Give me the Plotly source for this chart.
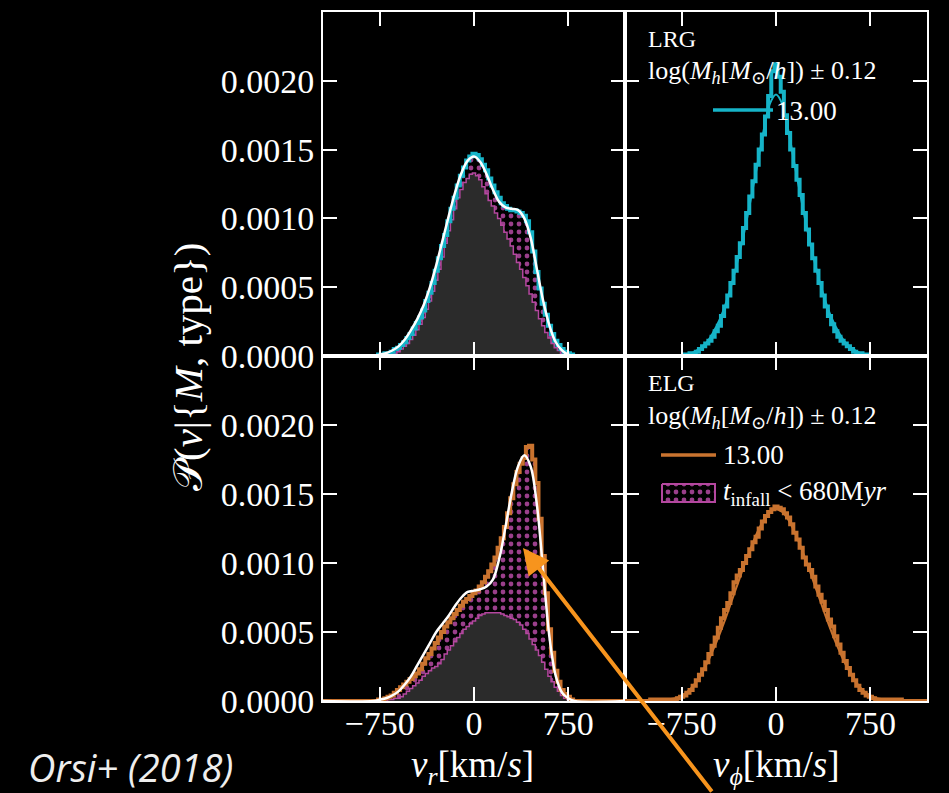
import plotly.graph_objects as go

# ---------------------------------------------------------------
# Satellite velocity distributions, Orsi+ (2018)
V_LIM = 1200
VEL_HIST = list(range(-800, 801, 25))   # histogram bin centres, km/s
VEL_FIT = list(range(-800, 801, 50))    # sampling of the smooth model curves, km/s

# LRG, radial velocity: all satellites / satellites with older infall
LRG_VR_ALL = [0, 0, 0.00001, 0.00001, 0.00002, 0.00002, 0.00003, 0.00005,
              0.00006, 0.00008, 0.00010, 0.00013, 0.00016, 0.00020, 0.00024, 0.00028,
              0.00033, 0.00040, 0.00046, 0.00053, 0.00062, 0.00071, 0.00080, 0.00088,
              0.00098, 0.00107, 0.00115, 0.00124, 0.00131, 0.00137, 0.00142, 0.00145,
              0.00147,
              0.00146, 0.00143, 0.00139, 0.00135, 0.00129, 0.00124, 0.00119, 0.00115,
              0.00111, 0.00109, 0.00107, 0.00106, 0.00106, 0.00105, 0.00104, 0.00102,
              0.00098, 0.00090, 0.00076, 0.00061, 0.00049, 0.00038, 0.00030, 0.00022,
              0.00016, 0.00011, 0.00008, 0.00005, 0.00003, 0.00002, 0.00001, 0]
LRG_VR_OLD = [0, 0, 0, 0, 0, 0.00001, 0.00001, 0.00002,
              0.00003, 0.00005, 0.00007, 0.00009, 0.00012, 0.00015, 0.00019, 0.00023,
              0.00028, 0.00034, 0.00040, 0.00047, 0.00055, 0.00063, 0.00072, 0.00082,
              0.00091, 0.00099, 0.00107, 0.00115, 0.00121, 0.00126, 0.00129, 0.00132,
              0.00133,
              0.00131, 0.00128, 0.00123, 0.00118, 0.00113, 0.00109, 0.00104, 0.00100,
              0.00095, 0.00090, 0.00085, 0.00080, 0.00074, 0.00068, 0.00063, 0.00057,
              0.00051, 0.00045, 0.00039, 0.00033, 0.00027, 0.00022, 0.00017, 0.00013,
              0.00009, 0.00006, 0.00004, 0.00002, 0.00001, 0, 0, 0]
LRG_VR_FIT = [0, 0.00001, 0.00002, 0.00004, 0.00007, 0.00012, 0.00019, 0.00027,
              0.00037, 0.00050, 0.00066, 0.00084, 0.00102, 0.00119, 0.00133, 0.00142,
              0.00145, 0.00141, 0.00132, 0.00121, 0.00112, 0.00108, 0.00107, 0.00106,
              0.00100, 0.00086, 0.00063, 0.00040, 0.00022, 0.00010, 0.00004, 0.00001, 0]

# LRG, tangential velocity
LRG_VPHI_ALL = [0, 0, 0, 0.00001, 0.00001, 0.00002, 0.00002, 0.00003,
                0.00005, 0.00007, 0.00009, 0.00011, 0.00014, 0.00018, 0.00022, 0.00029,
                0.00036, 0.00044, 0.00053, 0.00062, 0.00072, 0.00082, 0.00093, 0.00104,
                0.00116, 0.00127, 0.00139, 0.00150, 0.00161, 0.00174, 0.00189, 0.00207,
                0.00212,
                0.00203, 0.00192, 0.00175, 0.00162, 0.00150, 0.00138, 0.00128, 0.00117,
                0.00104, 0.00092, 0.00081, 0.00071, 0.00062, 0.00053, 0.00044, 0.00036,
                0.00029, 0.00023, 0.00018, 0.00014, 0.00011, 0.00009, 0.00007, 0.00005,
                0.00003, 0.00002, 0.00002, 0.00001, 0.00001, 0, 0, 0]
LRG_VPHI_FIT = [0, 0, 0.00001, 0.00003, 0.00006, 0.00010, 0.00017, 0.00026,
                0.00038, 0.00053, 0.00071, 0.00091, 0.00114, 0.00138, 0.00163, 0.00183,
                0.00190, 0.00183, 0.00163, 0.00138, 0.00114, 0.00091, 0.00071, 0.00053,
                0.00038, 0.00026, 0.00017, 0.00010, 0.00006, 0.00003, 0.00001, 0, 0]

# ELG, radial velocity
ELG_VR_ALL = [0, 0, 0.00001, 0.00001, 0.00002, 0.00003, 0.00004, 0.00006,
              0.00008, 0.00010, 0.00012, 0.00014, 0.00016, 0.00018, 0.00020, 0.00023,
              0.00027, 0.00031, 0.00034, 0.00038, 0.00042, 0.00046, 0.00050, 0.00054,
              0.00057, 0.00060, 0.00063, 0.00066, 0.00069, 0.00072, 0.00074, 0.00076,
              0.00078,
              0.00080, 0.00083, 0.00086, 0.00090, 0.00094, 0.00099, 0.00104, 0.00111,
              0.00118, 0.00126, 0.00136, 0.00147, 0.00157, 0.00166, 0.00172, 0.00176,
              0.00184, 0.00185, 0.00175, 0.00158, 0.00132, 0.00105, 0.00078, 0.00052,
              0.00035, 0.00022, 0.00014, 0.00008, 0.00005, 0.00003, 0.00001, 0]
ELG_VR_OLD = [0, 0, 0, 0, 0, 0.00001, 0.00001, 0.00002,
              0.00002, 0.00003, 0.00005, 0.00007, 0.00009, 0.00011, 0.00013, 0.00015,
              0.00018, 0.00020, 0.00022, 0.00024, 0.00025, 0.00027, 0.00030, 0.00034,
              0.00037, 0.00040, 0.00043, 0.00046, 0.00049, 0.00052, 0.00054, 0.00056,
              0.00058,
              0.00060, 0.00062, 0.00063, 0.00064, 0.00064, 0.00064, 0.00064, 0.00064,
              0.00063, 0.00062, 0.00061, 0.00060, 0.00059, 0.00057, 0.00055, 0.00052,
              0.00049, 0.00045, 0.00041, 0.00037, 0.00033, 0.00028, 0.00023, 0.00018,
              0.00014, 0.00010, 0.00007, 0.00004, 0.00002, 0.00001, 0, 0]
ELG_VR_FIT = [0, 0.00001, 0.00002, 0.00004, 0.00007, 0.00012, 0.00018, 0.00026,
              0.00034, 0.00042, 0.00050, 0.00056, 0.00062, 0.00069, 0.00075, 0.00079,
              0.00080, 0.00081, 0.00083, 0.00088, 0.00103, 0.00126, 0.00151, 0.00170,
              0.00178, 0.00170, 0.00142, 0.00094, 0.00046, 0.00018, 0.00006, 0.00002, 0]

# ELG, tangential velocity
ELG_VPHI_ALL = [0.00001, 0.00002, 0.00003, 0.00004, 0.00006, 0.00008, 0.00011, 0.00015,
                0.00019, 0.00023, 0.00028, 0.00034, 0.00040, 0.00046, 0.00053, 0.00060,
                0.00066, 0.00071, 0.00078, 0.00086, 0.00091, 0.00095, 0.00100, 0.00105,
                0.00110, 0.00115, 0.00119, 0.00125, 0.00130, 0.00134, 0.00137, 0.00139,
                0.00141,
                0.00140, 0.00139, 0.00136, 0.00133, 0.00128, 0.00122, 0.00117, 0.00111,
                0.00104, 0.00099, 0.00095, 0.00090, 0.00083, 0.00077, 0.00072, 0.00066,
                0.00059, 0.00054, 0.00047, 0.00041, 0.00035, 0.00029, 0.00024, 0.00019,
                0.00015, 0.00011, 0.00008, 0.00006, 0.00004, 0.00003, 0.00002, 0.00001]
ELG_VPHI_FIT = [0.00002, 0.00004, 0.00007, 0.00012, 0.00019, 0.00027, 0.00037, 0.00048,
                0.00060, 0.00073, 0.00086, 0.00099, 0.00111, 0.00122, 0.00131, 0.00137,
                0.00139, 0.00137, 0.00131, 0.00122, 0.00111, 0.00099, 0.00086, 0.00073,
                0.00060, 0.00048, 0.00037, 0.00027, 0.00019, 0.00012, 0.00007, 0.00004, 0.00002]

X_TICKS = [-750, 0, 750]
X_TICK_TEXT = ["\u2212750", "0", "750"]
Y_TICKS = [0, 0.0005, 0.0010, 0.0015, 0.0020]
Y_TICK_TEXT = ["0.0000", "0.0005", "0.0010", "0.0015", "0.0020"]

# ---------------------------------------------------------------
W, H = 949, 793
BG = "black"
CLEAR = "rgba(0,0,0,0)"
CYAN = "#16b4c8"
ORANGE = "#c9732f"
MAGENTA = "#b4479f"
HATCH_DOT = "#9a3f8b"
GREY = "#2b2b2b"
ARROW = "#f7941d"
SERIF = "Liberation Serif, DejaVu Serif, serif"


def px(x):
    return x / W


def py(y):
    return 1 - y / H


def edges(centres):
    # extend a curve to the panel edges at zero
    return [-V_LIM] + list(centres) + [V_LIM]


def padded(vals):
    return [0] + list(vals) + [0]


HATCH = dict(shape=".", fgcolor=HATCH_DOT, bgcolor=BG, size=8, solidity=0.28,
             fillmode="replace")

fig = go.Figure()
XH = edges(VEL_HIST)
XF = edges(VEL_FIT)


def stacked_panel(xa, ya, old, total, fit, colour):
    # older satellites (grey) with the recently accreted ones stacked on top (hatched)
    fig.add_trace(go.Scatter(x=XH, y=padded(old), xaxis=xa, yaxis=ya, mode="lines",
                             line=dict(color=MAGENTA, width=1.5, shape="hvh"),
                             fill="tozeroy", fillcolor=GREY, hoverinfo="skip"))
    fig.add_trace(go.Scatter(x=XH, y=padded(total), xaxis=xa, yaxis=ya, mode="lines",
                             line=dict(color=MAGENTA, width=1.5, shape="hvh"),
                             fill="tonexty", fillpattern=HATCH, hoverinfo="skip"))
    fig.add_trace(go.Scatter(x=XH, y=padded(total), xaxis=xa, yaxis=ya, mode="lines",
                             line=dict(color=colour, width=4, shape="hvh"),
                             hoverinfo="skip"))
    fig.add_trace(go.Scatter(x=XF, y=padded(fit), xaxis=xa, yaxis=ya, mode="lines",
                             line=dict(color="white", width=2.5, shape="spline"),
                             hoverinfo="skip"))


def simple_panel(xa, ya, hist, fit, colour):
    fig.add_trace(go.Scatter(x=XH, y=padded(hist), xaxis=xa, yaxis=ya, mode="lines",
                             line=dict(color=colour, width=4, shape="hvh"),
                             hoverinfo="skip"))
    fig.add_trace(go.Scatter(x=XF, y=padded(fit), xaxis=xa, yaxis=ya, mode="lines",
                             line=dict(color=colour, width=2, shape="spline"),
                             hoverinfo="skip"))


stacked_panel("x", "y", LRG_VR_OLD, LRG_VR_ALL, LRG_VR_FIT, CYAN)
simple_panel("x2", "y2", LRG_VPHI_ALL, LRG_VPHI_FIT, CYAN)
stacked_panel("x3", "y3", ELG_VR_OLD, ELG_VR_ALL, ELG_VR_FIT, ORANGE)
simple_panel("x4", "y4", ELG_VPHI_ALL, ELG_VPHI_FIT, ORANGE)

# hatched key of the ELG legend, on a transparent pixel-space overlay axis
KEY_X0, KEY_X1, KEY_Y0, KEY_Y1 = 662, 715, 484, 502
fig.add_trace(go.Scatter(x=[KEY_X0, KEY_X1, KEY_X1, KEY_X0, KEY_X0],
                         y=[KEY_Y0, KEY_Y0, KEY_Y1, KEY_Y1, KEY_Y0],
                         xaxis="x5", yaxis="y5", mode="lines", fill="toself",
                         fillpattern=HATCH, line=dict(color=MAGENTA, width=2),
                         hoverinfo="skip"))

# ---------------------------------------------------------------
left_dom = [px(323), px(625)]
right_dom = [px(625), px(927)]
top_dom = [py(356), py(12)]
bot_dom = [py(701), py(356)]

tick_font = dict(family=SERIF, size=34, color="white")
axis_common = dict(showline=True, linecolor="white", linewidth=2, mirror="allticks",
                   ticks="inside", ticklen=14, tickwidth=1.5, tickcolor="white",
                   showgrid=False, zeroline=False, tickfont=tick_font,
                   fixedrange=True, automargin=False)


def xaxis(domain, anchor, labels):
    return dict(axis_common, domain=domain, anchor=anchor, range=[-V_LIM, V_LIM],
                tickvals=X_TICKS, ticktext=X_TICK_TEXT, showticklabels=labels,
                ticklabelstandoff=-9)


def yaxis(domain, anchor, labels):
    return dict(axis_common, domain=domain, anchor=anchor, range=[0, 0.0025],
                tickvals=Y_TICKS, ticktext=Y_TICK_TEXT, showticklabels=labels)


fig.update_layout(
    width=W, height=H, margin=dict(l=0, r=0, t=0, b=0, pad=0, autoexpand=False),
    paper_bgcolor=BG, plot_bgcolor=CLEAR, showlegend=False,
    xaxis=xaxis(left_dom, "y", False), yaxis=yaxis(top_dom, "x", True),
    xaxis2=xaxis(right_dom, "y2", False), yaxis2=yaxis(top_dom, "x2", False),
    xaxis3=xaxis(left_dom, "y3", True), yaxis3=yaxis(bot_dom, "x3", True),
    xaxis4=xaxis(right_dom, "y4", True), yaxis4=yaxis(bot_dom, "x4", False),
    xaxis5=dict(domain=[0, 1], anchor="y5", range=[0, W], visible=False,
                fixedrange=True, automargin=False),
    yaxis5=dict(domain=[0, 1], anchor="x5", range=[H, 0], visible=False,
                fixedrange=True, automargin=False),
)

# ---------------------------------------------------------------
# text
def label(x, y, text, size, anchor="left", angle=0, family=SERIF, color="white",
          valign="middle"):
    fig.add_annotation(x=px(x), y=py(y), xref="paper", yref="paper", text=text,
                       showarrow=False, xanchor=anchor, yanchor=valign,
                       textangle=angle, font=dict(family=family, size=size, color=color))


MASS_LABEL = "log(<i>M</i><sub><i>h</i></sub>[<i>M</i><sub>\u2299</sub>/<i>h</i>]) \u00b1 0.12"

label(646, 39, "LRG", 24)
label(646, 72, MASS_LABEL, 26)
label(774, 111, "13.00", 27)
label(646, 383, "ELG", 24)
label(646, 417, MASS_LABEL, 26)
label(721, 455, "13.00", 27)
label(721, 493, "<i>t</i><sub>infall</sub> < 680M<i>yr</i>", 27)

label(188, 367, "\U0001D4AB(<i>v</i>|{<i>M</i>, type})", 41, anchor="center", angle=-90)
label(472, 793, "<i>v</i><sub><i>r</i></sub>[km/<i>s</i>]", 37, anchor="center",
      valign="bottom")
label(776, 793, "<i>v</i><sub><i>\u03d5</i></sub>[km/<i>s</i>]", 37, anchor="center",
      valign="bottom")
label(26, 767, "<i>Orsi+ (2018)</i>", 38, family="Open Sans, Lato, sans-serif",
      color="#eeeeee")

# legend line keys
fig.add_shape(type="line", xref="paper", yref="paper", x0=px(713), x1=px(773),
              y0=py(110), y1=py(110), line=dict(color=CYAN, width=3.5))
fig.add_shape(type="line", xref="paper", yref="paper", x0=px(661), x1=px(716),
              y0=py(455), y1=py(455), line=dict(color=ORANGE, width=3.5))

# arrow pointing at the recently accreted peak
fig.add_annotation(x=px(523), y=py(548), xref="paper", yref="paper", text="",
                   showarrow=True, ax=190, ay=250, arrowhead=2, arrowsize=1.3,
                   arrowwidth=4, arrowcolor=ARROW)

fig.write_html("out.html")
